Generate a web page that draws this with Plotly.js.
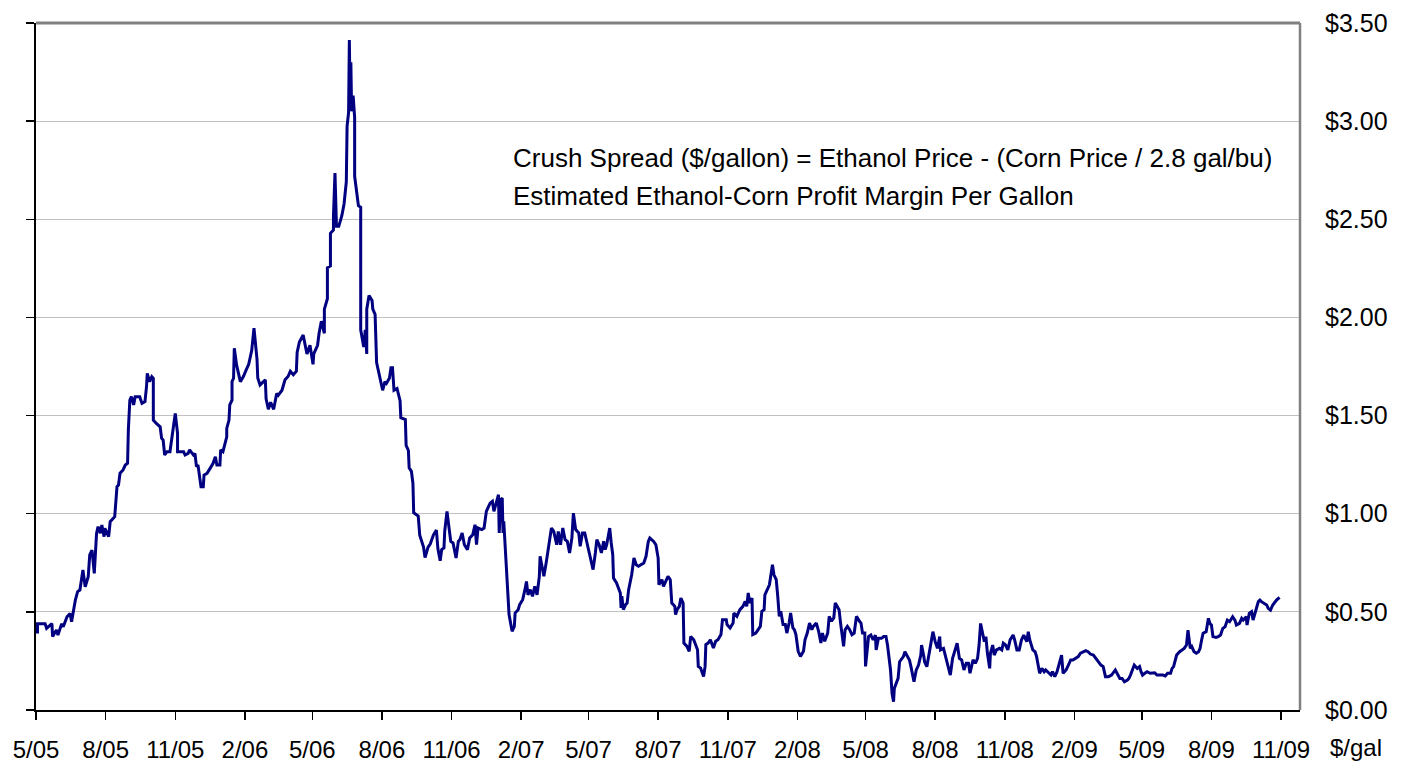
<!DOCTYPE html>
<html>
<head>
<meta charset="utf-8">
<script src="https://cdn.plot.ly/plotly-3.0.1.min.js"></script>
<style>
  html, body { margin: 0; padding: 0; background: #ffffff; }
  #chart { width: 1406px; height: 768px; }
</style>
</head>
<body>
<div id="chart"></div>
<script>
// Dates are given as days after the series start date (2005-05-01)
const startDate = '2005-05-01';
const dayOffsets = [
  2,2,12,14,21,22,27,29,34,36,41,45,47,49,52,55,58,60,62,65,69,71,74,77,80,82,85,87,90,91,96,98,102,104,107,109,111,115,118,121,122,124,126,129,131,137,140,144,146,147,150,153,155,155,159,164,166,168,170,173,177,181,184,187,187,195,197,201,203,208,210,212,214,218,221,222,226,230,234,237,239,243,244,247,250,252,252,255,256,259,259,261,262,265,270,
  274,278,281,285,288,292,293,296,303,304,307,310,314,318,320,325,329,333,336,340,344,345,348,353,358,362,366,367,372,374,377,381,381,385,385,389,389,393,393,395,396,397,400,404,407,410,411,413,414,415,416,417,419,421,421,426,429,429,433,435,437,437,440,444,445,448,450,455,458,461,463,467,469,471,473,477,481,482,488,489,492,493,496,498,499,505,507,512,514,518,521,525,529,531,
  534,536,539,540,543,546,548,551,555,558,560,563,566,570,573,577,580,582,584,589,592,595,600,603,605,608,611,612,614,616,617,618,621,622,625,629,632,633,637,639,643,646,648,650,653,656,659,662,665,666,668,671,674,676,678,681,684,688,690,693,696,699,702,705,708,710,713,717,719,722,725,728,731,734,736,739,741,744,747,750,752,754,756,758,760,762,763,767,772,773,774,776,779,781,783,786,787,790,793,796,800,803,806,809,811,816,819,822,823,827,829,832,835,838,840,844,845,847,850,852,855,856,860,863,865,869,871,874,875,878,882,884,885,888,891,895,898,901,905,907,912,913,917,921,922,926,930,934,937,939,941,943,946,947,951,954,957,959,962,963,966,969,971,973,975,978,980,982,984,987,990,992,995,997,1000,1002,1004,1007,1010,1014,1016,1019,1022,1025,1027,1031,1034,1037,1039,1042,1046,1048,1051,1054,1056,1059,1061,1063,1067,1069,1072,1075,1078,1081,1084,1088,1090,1092,1095,1096,1098,1100,
  1103,1106,1109,1110,1113,1117,1120,1123,1125,1127,1129,1131,1133,1134,1136,1139,1141,1144,1146,1148,1151,1154,1156,1158,1160,1163,1166,1169,1170,1173,1174,1177,1179,1182,1185,1188,1191,1194,1195,1199,1202,1205,1208,1211,1214,1217,1220,1223,1226,1229,1232,1234,1238,1241,1244,1246,1248,1251,1253,1255,1257,1260,1261,1264,1266,1269,1273,1276,1278,1281,1284,1287,1291,1293,1296,1299,1302,1305,1309,1311,1313,1317,1320,1322,1326,1329,1332,1334,1338,1341,1343,1346,1349,1352,1355,1357,1361,1364,1367,1370,1374,1377,1380,1384,1387,1390,1393,1397,1400,1403,1407,1410,1413,1417,1421,1426,1429,1432,1435,1438,1442,1444,1446,1449,1451,1455,1458,1460,1462,1465,1468,1472,1475,1478,1481,1485,1489,1492,1495,1499,1501,1503,1505,1507,1511,1514,1517,1520,1522,1525,1527,1530,1533,1536,1538,1540,1542,1546,1549,1551,1553,1555,1559,1562,1565,1568,1571,1574,1577,1581,1584,1586,1590,1593,1595,1599,1600,1603,1606,1608,1611,1613,1615,1617,1619,1622,1626,1628,1631,1634,1637,1639,1643
];
const crushSpread = [
  0.39,0.44,0.44,0.416,0.44,0.374,0.408,0.382,0.44,0.424,0.475,0.492,0.45,0.50,0.56,0.603,0.611,0.662,0.713,0.628,0.679,0.79,0.815,0.696,0.90,0.934,0.90,0.942,0.883,0.926,0.883,0.959,0.976,0.985,1.138,1.146,1.206,1.223,1.248,1.257,1.426,1.579,1.596,1.554,1.596,1.596,1.562,1.571,1.647,1.715,1.673,1.698,1.69,1.477,1.46,1.443,1.384,1.375,1.299,1.316,1.316,1.443,1.511,1.409,1.316,1.316,1.299,1.307,1.325,1.299,1.307,1.24,1.248,1.138,1.138,1.197,1.206,1.231,1.257,1.29,1.248,1.248,1.325,1.316,1.367,1.392,1.435,1.477,1.554,1.579,1.673,1.69,1.843,1.758,1.673,
  1.699,1.735,1.761,1.831,1.946,1.787,1.691,1.656,1.682,1.585,1.532,1.568,1.532,1.612,1.603,1.629,1.682,1.699,1.726,1.708,1.726,1.822,1.875,1.91,1.814,1.858,1.761,1.814,1.858,1.919,1.981,1.919,2.042,2.095,2.253,2.262,2.429,2.446,2.517,2.736,2.517,2.464,2.464,2.517,2.578,2.692,2.974,3.044,3.413,3.10,3.30,3.05,3.13,3.018,2.719,2.569,2.561,1.937,1.849,1.937,1.814,2.042,2.112,2.086,2.042,2.016,1.77,1.691,1.629,1.673,1.664,1.691,1.743,1.743,1.629,1.638,1.576,1.489,1.48,1.348,1.322,1.234,1.216,1.155,1.005,0.988,0.891,0.83,0.777,0.83,0.847,0.891,0.917,0.821,
  0.76,0.817,0.825,0.91,1.012,0.919,0.859,0.851,0.774,0.859,0.868,0.902,0.842,0.817,0.876,0.893,0.944,0.842,0.927,0.919,0.927,1.012,1.054,1.063,1.012,1.054,1.097,0.902,1.071,1.08,0.902,0.961,0.766,0.647,0.486,0.401,0.426,0.494,0.511,0.537,0.562,0.613,0.655,0.587,0.613,0.579,0.63,0.587,0.681,0.783,0.749,0.681,0.749,0.8,0.876,0.927,0.91,0.842,0.91,0.842,0.927,0.868,0.859,0.8,0.876,1.003,0.919,0.902,0.834,0.902,0.902,0.842,0.8,0.749,0.715,0.8,0.868,0.842,0.8,0.859,0.817,0.842,0.885,0.927,0.851,0.791,0.672,0.647,0.596,0.52,0.58,0.511,0.537,0.545,0.613,0.664,0.689,0.774,0.74,0.732,0.74,0.749,0.783,0.859,0.876,0.859,0.842,0.774,0.638,0.664,0.63,0.655,0.681,0.664,0.545,0.528,0.486,0.511,0.528,0.57,0.545,0.341,0.324,0.299,0.375,0.358,0.341,0.307,0.222,0.214,0.171,0.222,0.333,0.341,0.358,0.316,0.35,0.358,0.384,0.46,0.46,0.435,0.418,0.443,0.494,0.477,0.511,0.528,0.553,0.528,0.596,0.545,0.57,0.384,0.392,0.409,0.426,0.503,0.511,0.587,0.613,0.638,0.689,0.74,0.689,0.664,0.579,0.477,0.503,0.435,0.435,0.392,0.443,0.494,0.418,0.409,0.384,0.299,0.273,0.299,0.358,0.392,0.443,0.409,0.426,0.443,0.401,0.341,0.392,0.35,0.392,0.477,0.452,0.469,0.545,0.52,0.511,0.443,0.324,0.409,0.426,0.409,0.384,0.392,0.477,0.452,0.443,0.392,0.392,0.222,0.289,0.374,
  0.382,0.357,0.382,0.306,0.365,0.365,0.374,0.374,0.331,0.255,0.204,0.085,0.042,0.11,0.127,0.161,0.246,0.263,0.272,0.297,0.272,0.255,0.221,0.187,0.144,0.204,0.229,0.28,0.331,0.272,0.246,0.221,0.263,0.34,0.399,0.348,0.314,0.374,0.306,0.314,0.272,0.229,0.178,0.263,0.297,0.34,0.263,0.255,0.204,0.238,0.238,0.187,0.255,0.238,0.263,0.331,0.441,0.374,0.348,0.374,0.289,0.212,0.289,0.331,0.28,0.306,0.314,0.306,0.34,0.331,0.306,0.357,0.382,0.357,0.306,0.306,0.357,0.382,0.348,0.399,0.357,0.306,0.297,0.272,0.187,0.212,0.195,0.204,0.187,0.178,0.195,0.17,0.195,0.238,0.28,0.187,0.204,0.229,0.255,0.255,0.263,0.272,0.289,0.297,0.302,0.297,0.285,0.28,0.263,0.246,0.229,0.221,0.17,0.17,0.178,0.204,0.178,0.161,0.161,0.144,0.153,0.161,0.178,0.204,0.229,0.212,0.221,0.195,0.178,0.187,0.195,0.187,0.187,0.19,0.178,0.178,0.178,0.173,0.187,0.187,0.212,0.221,0.255,0.28,0.297,0.306,0.314,0.331,0.407,0.314,0.323,0.297,0.289,0.297,0.314,0.357,0.391,0.399,0.467,0.441,0.433,0.374,0.37,0.374,0.382,0.416,0.424,0.458,0.45,0.475,0.458,0.433,0.441,0.467,0.458,0.475,0.433,0.492,0.501,0.458,0.509,0.526,0.552,0.56,0.552,0.543,0.535,0.518,0.509,0.535,0.552,0.56,0.574
];
const xTickDates = ['2005-05-01','2005-08-01','2005-11-01','2006-02-01','2006-05-01','2006-08-01','2006-11-01','2007-02-01','2007-05-01','2007-08-01','2007-11-01','2008-02-01','2008-05-01','2008-08-01','2008-11-01','2009-02-01','2009-05-01','2009-08-01','2009-11-01'];
const xTickLabels = ['5/05','8/05','11/05','2/06','5/06','8/06','11/06','2/07','5/07','8/07','11/07','2/08','5/08','8/08','11/08','2/09','5/09','8/09','11/09'];
const yTickValues = [0, 0.5, 1.0, 1.5, 2.0, 2.5, 3.0, 3.5];
const yTickLabels = ['$0.00','$0.50','$1.00','$1.50','$2.00','$2.50','$3.00','$3.50'];
const noteLine1 = 'Crush Spread ($/gallon) = Ethanol Price - (Corn Price / 2.8 gal/bu)';
const noteLine2 = 'Estimated Ethanol-Corn Profit Margin Per Gallon';
const unitLabel = '$/gal';

const startMs = Date.parse(startDate + 'T00:00:00Z');
const dates = dayOffsets.map(d => new Date(startMs + d * 86400000).toISOString().slice(0, 10));

const FONT = 'Liberation Sans, Arial, Helvetica, sans-serif';

const traces = [
  {
    x: dates, y: crushSpread, type: 'scatter', mode: 'lines',
    line: { color: '#000080', width: 3 },
    yaxis: 'y', hoverinfo: 'x+y', showlegend: false
  },
  {
    x: [dates[0]], y: [crushSpread[0]], type: 'scatter', mode: 'lines',
    line: { color: 'rgba(0,0,0,0)', width: 0 },
    yaxis: 'y2', hoverinfo: 'skip', showlegend: false
  }
];

const layout = {
  width: 1406, height: 768,
  margin: { l: 36, r: 106, t: 23, b: 58, pad: 0 },
  paper_bgcolor: '#ffffff', plot_bgcolor: '#ffffff',
  font: { family: FONT, size: 24, color: '#000000' },
  showlegend: false,
  xaxis: {
    type: 'date', range: ['2005-05-01', '2009-11-26'],
    tickmode: 'array', tickvals: xTickDates, ticktext: xTickLabels,
    ticks: 'outside', ticklen: 8, tickwidth: 1.5, tickcolor: '#000000',
    showline: true, linecolor: '#000000', linewidth: 1.5,
    showgrid: false, zeroline: false,
    tickfont: { family: FONT, size: 24, color: '#000000' },
    ticklabelstandoff: 10
  },
  yaxis: {
    range: [0, 3.5], side: 'right',
    tickmode: 'array', tickvals: yTickValues, ticktext: yTickLabels,
    ticks: '', showline: false, zeroline: false,
    showgrid: true, gridcolor: '#c0c0c0', gridwidth: 1,
    tickfont: { family: FONT, size: 25, color: '#000000' },
    ticklabelstandoff: 24
  },
  yaxis2: {
    range: [0, 3.5], side: 'left', overlaying: 'y',
    tickmode: 'array', tickvals: yTickValues,
    ticks: 'outside', ticklen: 8, tickwidth: 1.5, tickcolor: '#000000',
    showticklabels: false, showline: true, linecolor: '#000000', linewidth: 2,
    showgrid: false, zeroline: false
  },
  shapes: [
    { type: 'line', xref: 'paper', yref: 'paper', x0: 0, x1: 1, y0: 1, y1: 1,
      line: { color: '#808080', width: 3 } },
    { type: 'line', xref: 'paper', yref: 'paper', x0: 1, x1: 1, y0: 0, y1: 1,
      line: { color: '#808080', width: 2.5 } }
  ],
  annotations: [
    { text: noteLine1, xref: 'paper', yref: 'paper', x: 0.3758, y: 0.8035,
      xanchor: 'left', yanchor: 'middle', showarrow: false,
      font: { family: FONT, size: 26, color: '#000000' } },
    { text: noteLine2, xref: 'paper', yref: 'paper', x: 0.3758, y: 0.748,
      xanchor: 'left', yanchor: 'middle', showarrow: false,
      font: { family: FONT, size: 26, color: '#000000' } },
    { text: unitLabel, xref: 'paper', yref: 'paper', x: 1.0222, y: -0.054,
      xanchor: 'left', yanchor: 'middle', showarrow: false,
      font: { family: FONT, size: 24, color: '#000000' } }
  ]
};

Plotly.newPlot('chart', traces, layout, { displayModeBar: false, staticPlot: true });
</script>
</body>
</html>
